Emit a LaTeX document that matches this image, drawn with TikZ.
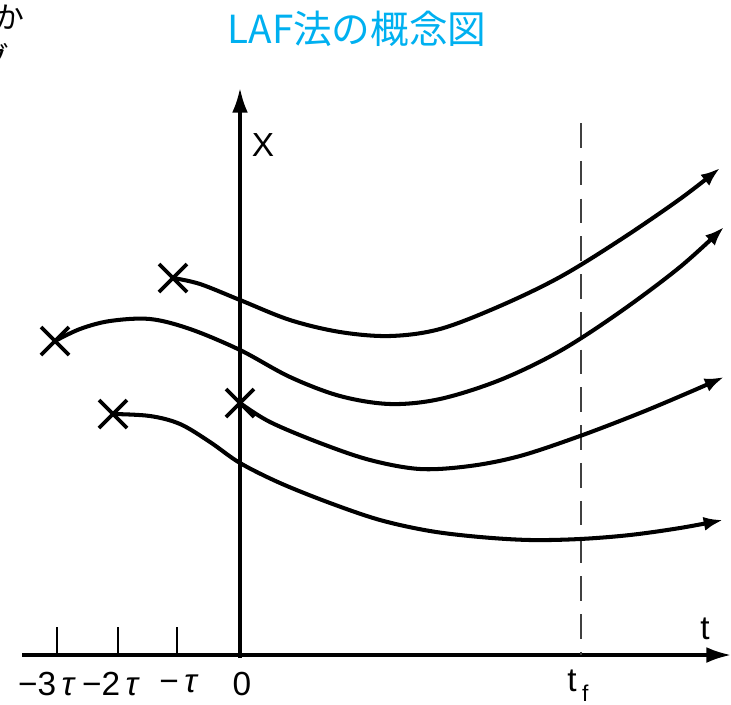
\documentclass[tikz,border=0pt]{standalone}
\usepackage{fontspec}
\setmainfont{Liberation Sans}
\newfontfamily\cjk{Noto Sans CJK JP}
\usetikzlibrary{arrows.meta}
\definecolor{titleblue}{RGB}{0,176,240}
\begin{document}
\begin{tikzpicture}[x=0.02cm,y=-0.02cm,font=\fontsize{19}{22}\selectfont,
	traj/.style={line width=2.3pt,-{Latex[length=11pt,width=8pt]}},
	axis/.style={line width=1.8pt,-{Latex[length=14pt,width=9pt]}},
	tick/.style={line width=1.1pt},
	cross/.style={line width=2.2pt}]
	\useasboundingbox (0,0) rectangle (731,704);
	\path (22,655) coordinate (O_t)
	(731,655) coordinate (T)
	(240,658) coordinate (O_x)
	(240,88) coordinate (X)
	(581,123) coordinate (F_1)
	(581,655) coordinate (F)
	(173,278) coordinate (P1)
	(55,341) coordinate (P2)
	(240,403) coordinate (P3)
	(113,414) coordinate (P4)
	(720,168) coordinate (E1)
	(724,227) coordinate (E2)
	(724,377) coordinate (E3)
	(723,520) coordinate (E4);
	\draw[axis] (O_t)--(T);
	\draw[axis] (O_x)--(X);
	\draw[line width=1.1pt,black!75,dash pattern=on 14pt off 7.5pt] (F_1)--(F);
	\foreach \p/\lx/\lab/\nm in {57/47/{−3\,\textit{τ}}/m3,118/111/{−2\,\textit{τ}}/m2,177/179/{−\,\textit{τ}}/m1}{
		\draw[tick] (\p,627)--(\p,655);
		\node (\nm) at (\lx,684) {\lab};
	}
	\node (zero) at (242,684) {0};
	\node (tf) at (578,686) {t\,\raisebox{-0.55ex}{\fontsize{13}{14}\selectfont f}};
	\node (tl) at (705,629) {t};
	\node (xl) at (263,145) {X};
	\foreach \p in {P1,P2,P3,P4}{
		\draw[cross] (\p) +(-14,-14)--+(14,14) +(-14,14)--+(14,-14);
	}
	\draw[traj] plot[smooth,tension=0.55] coordinates {(P1) (200,284) (240,300) (290,320) (340,332) (390,336)
		(440,329) (500,306) (560,277) (620,240) (680,199) (E1)};
	\draw[traj] plot[smooth,tension=0.55] coordinates {(P2) (80,329) (110,321) (150,319) (190,329) (240,350)
		(290,377) (340,396) (390,404) (440,399) (500,380) (560,351) (620,312) (680,267) (E2)};
	\draw[traj] plot[smooth,tension=0.55] coordinates {(P3) (270,422) (320,443) (370,460) (420,469) (470,466)
		(520,456) (580,436) (640,413) (690,392) (E3)};
	\draw[traj] plot[smooth,tension=0.55] coordinates {(P4) (150,416) (180,424) (210,442) (240,463) (280,483)
		(330,503) (380,520) (430,531) (480,537) (530,540) (580,539) (630,535) (680,528) (E4)};
	\node[font=\cjk\fontsize{22}{26}\selectfont,text=titleblue] (title) at (357,29) {LAF法の概念図};
	\node[font=\cjk\fontsize{17}{20}\selectfont,anchor=east,inner sep=0pt] (ka) at (25,17) {か};
	\node[font=\cjk\fontsize{17}{20}\selectfont,anchor=east,inner sep=0pt] (gu) at (10,57) {グ};
\end{tikzpicture}
\end{document}
